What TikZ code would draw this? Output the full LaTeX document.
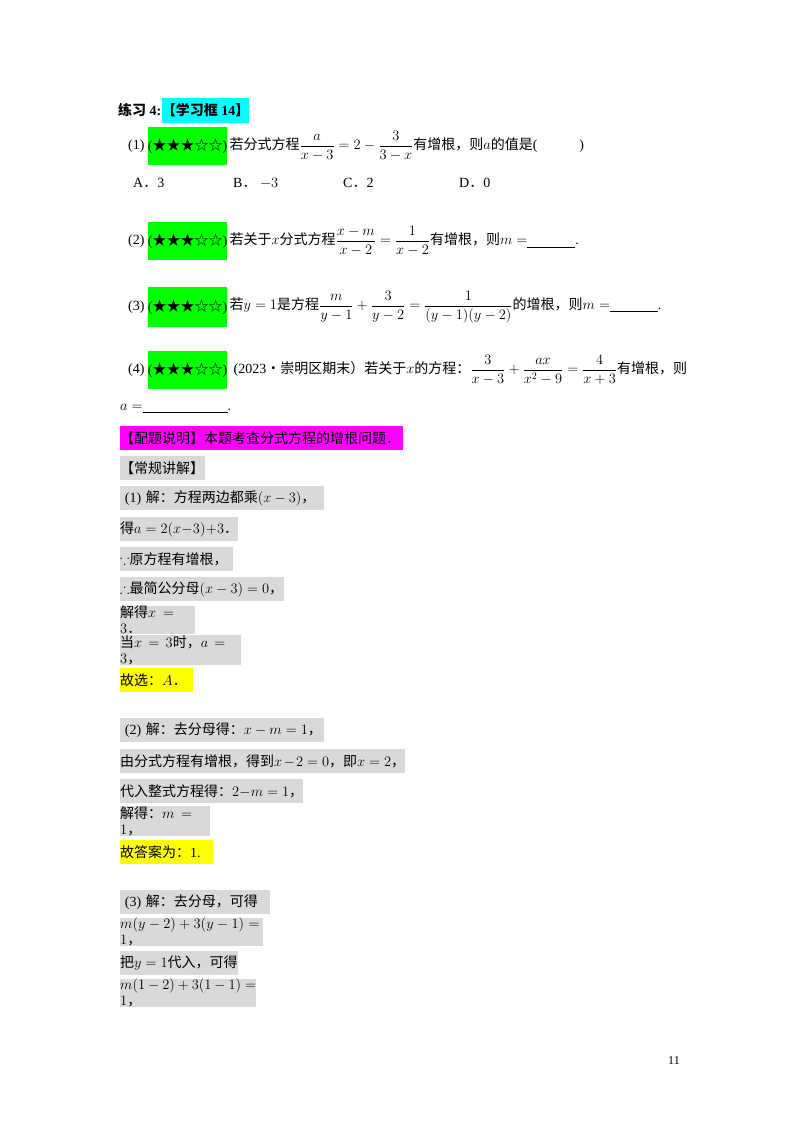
\documentclass[tikz,border=0pt]{standalone}
\usepackage{amsmath,amssymb}
\usepackage{fontspec}
\setmainfont{Liberation Serif}
\newfontfamily\cjk{Noto Sans CJK SC}
\usetikzlibrary{positioning}
\newcommand{\zh}[1]{{\cjk #1}}
\newcommand{\stars}{(\zh{★★★☆☆})}
\definecolor{hlgreen}{HTML}{00FF00}
\definecolor{hlcyan}{HTML}{00FFFF}
\definecolor{hlpink}{HTML}{FF00FF}
\definecolor{hlyellow}{HTML}{FFFF00}
\definecolor{hlgray}{HTML}{D9D9D9}

\begin{document}
\begin{tikzpicture}[
  x=1pt, y=-1pt,
  font=\fontsize{14}{16}\selectfont,
  line/.style={anchor=west, inner sep=0pt, align=left},
  box/.style={line, minimum height=24pt, text width=#1},
  starbox/.style={anchor=west, fill=hlgreen, inner sep=0pt,
                  minimum width=74pt, minimum height=38pt},
]
  \useasboundingbox (0,0) rectangle (800,1132);

  % heading
  \node[line] (title) at (118,110) {\zh{\bfseries 练习} \textbf{4:}};
  \node[line, fill=hlcyan, minimum height=25pt, right=0pt of title] (frame)
    {\zh{\bfseries 【学习框}\textbf{ 14}\zh{\bfseries 】}};

  % exercise 1
  \node[line] (n1) at (128,146) {(1)};
  \node[starbox, right=3pt of n1] (s1) {\stars};
  \node[line, right=2pt of s1] (q1)
    {\zh{若分式方程}$\dfrac{a}{x-3}=2-\dfrac{3}{3-x}$\zh{有增根，则}$a$\zh{的值是}(\hspace{3em})};
  \node[line] (oa) at (133,183) {A\zh{．}3};
  \node[line] (ob) at (233,183) {B\zh{．} $-3$};
  \node[line] (oc) at (343,183) {C\zh{．}2};
  \node[line] (od) at (459,183) {D\zh{．}0};

  % exercise 2
  \node[line] (n2) at (128,241) {(2)};
  \node[starbox, right=3pt of n2] (s2) {\stars};
  \node[line, right=2pt of s2] (q2)
    {\zh{若关于}$x$\zh{分式方程}$\dfrac{x-m}{x-2}=\dfrac{1}{x-2}$\zh{有增根，则}$m=$\underline{\hspace{48pt}}.};

  % exercise 3
  \node[line] (n3) at (128,307) {(3)};
  \node[starbox, minimum height=40pt, right=3pt of n3] (s3) {\stars};
  \node[line, right=2pt of s3] (q3)
    {\zh{若}$y=1$\zh{是方程}$\dfrac{m}{y-1}+\dfrac{3}{y-2}=\dfrac{1}{(y-1)(y-2)}$\zh{的增根，则}$m=$\underline{\hspace{48pt}}.};

  % exercise 4
  \node[line] (n4) at (128,370) {(4)};
  \node[starbox, minimum width=72pt, right=3pt of n4] (s4) {\stars};
  \node[line, right=6pt of s4] (q4)
    {(2023\zh{•崇明区期末）若关于}$x$\zh{的方程：}$\dfrac{3}{x-3}+\dfrac{ax}{x^2-9}=\dfrac{4}{x+3}$\zh{有增根，则}};
  \node[line] (q4b) at (120,409) {$a=$\underline{\hspace{85pt}}.};

  % explanation
  \node[box=283pt, fill=hlpink] (note) at (120,438)
    {\zh{【配题说明】本题考查分式方程的增根问题．}};
  \node[box=85pt, fill=hlgray] (sol) at (120,468) {\zh{【常规讲解】}};

  % solution 1
  \node[box=204pt, fill=hlgray] (a1) at (120,498) {\ (1)\zh{ 解：方程两边都乘}$(x-3)$\zh{，}};
  \node[box=118pt, fill=hlgray] (a2) at (120,529) {\zh{得}$a=2(x-3)+3$\zh{．}};
  \node[box=113pt, fill=hlgray] (a3) at (120,559) {$\because$\zh{原方程有增根，}};
  \node[box=164pt, fill=hlgray] (a4) at (120,589) {$\therefore$\zh{最简公分母}$(x-3)=0$\zh{，}};
  \node[box=75pt, fill=hlgray] (a5) at (120,620) {\zh{解得}$x=3$\zh{．}};
  \node[box=121pt, fill=hlgray] (a6) at (120,650) {\zh{当}$x=3$\zh{时，}$a=3$\zh{，}};
  \node[box=73pt, fill=hlyellow] (a7) at (120,680) {\zh{故选：}$A$\zh{．}};

  % solution 2
  \node[box=204pt, fill=hlgray] (b1) at (120,730) {\ (2)\zh{ 解：去分母得：}$x-m=1$\zh{，}};
  \node[box=285pt, fill=hlgray] (b2) at (120,761) {\zh{由分式方程有增根，得到}$x-2=0$\zh{，即}$x=2$\zh{，}};
  \node[box=183pt, fill=hlgray] (b3) at (120,791) {\zh{代入整式方程得：}$2-m=1$\zh{，}};
  \node[box=90pt, fill=hlgray] (b4) at (120,821) {\zh{解得：}$m=1$\zh{，}};
  \node[box=93pt, fill=hlyellow] (b5) at (120,852) {\zh{故答案为：}1.};

  % solution 3
  \node[box=150pt, fill=hlgray] (c1) at (120,902) {\ (3)\zh{ 解：去分母，可得}};
  \node[box=143pt, fill=hlgray] (c2) at (120,932) {$m(y-2)+3(y-1)=1$\zh{，}};
  \node[box=118pt, fill=hlgray] (c3) at (120,963) {\zh{把}$y=1$\zh{代入，可得}};
  \node[box=136pt, fill=hlgray] (c4) at (120,993) {$m(1-2)+3(1-1)=1$\zh{，}};

  \node[line] (page) at (668,1061) {\fontsize{12}{14}\selectfont 11};
\end{tikzpicture}
\end{document}
